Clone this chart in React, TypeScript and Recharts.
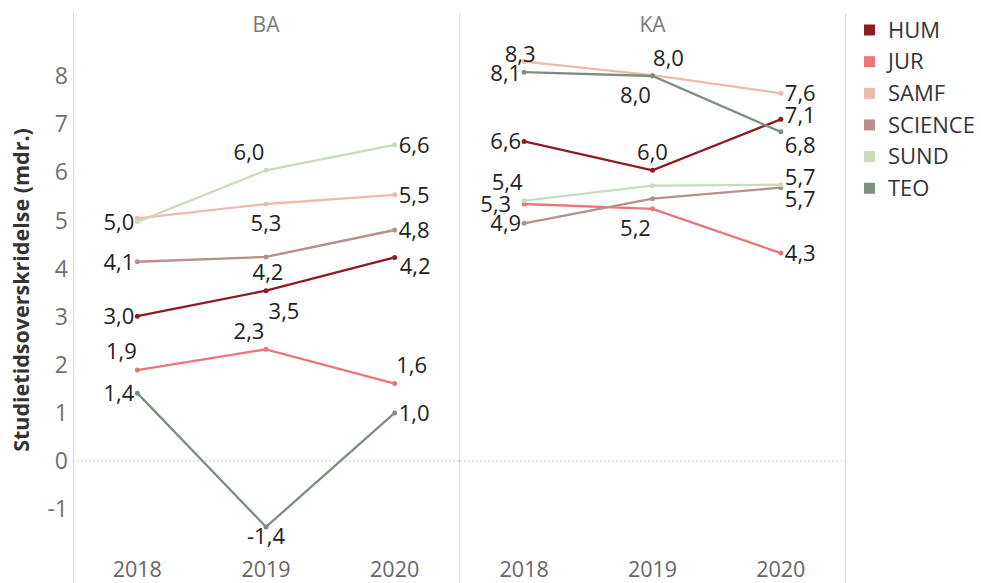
import React from 'react';
import { LineChart, Line, XAxis, YAxis, ReferenceLine, LabelList } from 'recharts';

const FONT = "'Open Sans', sans-serif";

// Categories
const years = ['2018', '2019', '2020'];
const panels = ['BA', 'KA'];
const faculties = ['HUM', 'JUR', 'SAMF', 'SCIENCE', 'SUND', 'TEO'];
const yTicks = [-1, 0, 1, 2, 3, 4, 5, 6, 7, 8];

// BA values (months)
const HUM_BA = [3.01, 3.54, 4.23];
const JUR_BA = [1.89, 2.32, 1.61];
const SAMF_BA = [5.04, 5.34, 5.53];
const SCIENCE_BA = [4.14, 4.24, 4.8];
const SUND_BA = [4.97, 6.04, 6.57];
const TEO_BA = [1.41, -1.37, 1.0];

// KA values (months)
const HUM_KA = [6.64, 6.04, 7.1];
const JUR_KA = [5.34, 5.24, 4.32];
const SAMF_KA = [8.3, 8.02, 7.64];
const SCIENCE_KA = [4.94, 5.45, 5.68];
const SUND_KA = [5.41, 5.72, 5.74];
const TEO_KA = [8.08, 8.0, 6.84];

const COLORS: Record<string, string> = {
  HUM: '#8c1c22',
  JUR: '#e8767b',
  SAMF: '#efbaae',
  SCIENCE: '#b5908c',
  SUND: '#c9dcbe',
  TEO: '#7d8f80',
};

const seriesBA: Record<string, number[]> = {
  HUM: HUM_BA, JUR: JUR_BA, SAMF: SAMF_BA, SCIENCE: SCIENCE_BA, SUND: SUND_BA, TEO: TEO_BA,
};
const seriesKA: Record<string, number[]> = {
  HUM: HUM_KA, JUR: JUR_KA, SAMF: SAMF_KA, SCIENCE: SCIENCE_KA, SUND: SUND_KA, TEO: TEO_KA,
};

const buildData = (s: Record<string, number[]>) =>
  years.map((year, i) => {
    const row: any = { year };
    faculties.forEach((f) => (row[f] = s[f][i]));
    return row;
  });

const dataBA = buildData(seriesBA);
const dataKA = buildData(seriesKA);

// Label placement (layout only): [dx, dy, anchor] relative to the point, or null = hidden
type P = [number, number, 'start' | 'middle' | 'end'] | null;
const L: P = [-3, 0, 'end'];
const R: P = [4, 0, 'start'];
const placements: Record<string, Record<string, P[]>> = {
  BA: {
    HUM: [L, [18, 21, 'middle'], [5, 9, 'start']],
    JUR: [[-16, -19, 'middle'], [-17, -18, 'middle'], [17, -18, 'middle']],
    SAMF: [null, [0, 19, 'middle'], R],
    SCIENCE: [L, [2, 15, 'middle'], R],
    SUND: [L, [-17, -18, 'middle'], R],
    TEO: [L, [0, 9, 'middle'], R],
  },
  KA: {
    HUM: [L, [0, -18, 'middle'], [4, -4, 'start']],
    JUR: [[-13, 0, 'end'], [-17, 19, 'middle'], R],
    SAMF: [[-4, -7, 'middle'], [16, -17, 'middle'], R],
    SCIENCE: [L, null, [4, 11, 'start']],
    SUND: [[-17, -18, 'middle'], null, [4, -8, 'start']],
    TEO: [[-3, 1, 'end'], [-17, 19, 'middle'], [4, 13, 'start']],
  },
};

const fmt = (v: number) => Number(v).toFixed(1).replace('.', ',');

const LABEL_FS = 22;

const makeLabel = (panel: string, key: string) => (props: any) => {
  const x = props.x ?? props.viewBox?.x;
  const y = props.y ?? props.viewBox?.y;
  const p = placements[panel][key][props.index];
  if (!p || props.value == null || x == null || y == null) return null;
  return (
    <text
      x={x + p[0]}
      y={y + p[1] + LABEL_FS * 0.357}
      textAnchor={p[2]}
      fontSize={LABEL_FS}
      fontFamily={FONT}
      fill="#222"
    >
      {fmt(props.value)}
    </text>
  );
};

const TOP = 27.875;
const XH = 25.75;
const H = 583;

function PanelChart({ panel, data, width, showY }: { panel: string; data: any[]; width: number; showY: boolean }) {
  const plotW = width - (showY ? 73 : 0);
  const pad = plotW / 6;
  return (
    <LineChart width={width} height={H} data={data} margin={{ top: TOP, right: 0, bottom: 0, left: 0 }}>
      <XAxis
        dataKey="year"
        height={XH}
        axisLine={false}
        tickLine={false}
        tickSize={0}
        tickMargin={4}
        interval={0}
        padding={{ left: pad, right: pad }}
        tick={{ fontSize: 21.5, fill: '#666', fontFamily: FONT }}
      />
      <YAxis
        type="number"
        width={showY ? 73 : 0}
        hide={!showY}
        domain={[-2, 9]}
        ticks={yTicks}
        allowDataOverflow
        axisLine={false}
        tickLine={false}
        tickSize={0}
        tickMargin={5}
        tick={{ fontSize: 23, fill: '#707070', fontFamily: FONT }}
      />
      <ReferenceLine y={0} stroke="#cfcfcf" strokeDasharray="2 2" strokeWidth={1} />
      {faculties.map((f) => (
        <Line
          key={f}
          dataKey={f}
          stroke={COLORS[f]}
          strokeWidth={2.3}
          dot={{ r: 2.5, fill: COLORS[f], stroke: COLORS[f], strokeWidth: 0 }}
          activeDot={false}
          isAnimationActive={false}
        >
          <LabelList dataKey={f} content={makeLabel(panel, f)} />
        </Line>
      ))}
    </LineChart>
  );
}

export default function App() {
  const legendTop = 30;
  const legendStep = 31.65;
  return (
    <div style={{ position: 'absolute', left: 0, top: 0, width: 981, height: 583, background: '#fff', overflow: 'hidden' }}>
      <svg width={981} height={583} style={{ position: 'absolute', left: 0, top: 0 }}>
        {[73, 459, 845].map((x) => (
          <line key={x} x1={x + 0.5} x2={x + 0.5} y1={13} y2={583} stroke="#dcdcdc" strokeWidth={1} />
        ))}
        {panels.map((p, i) => (
          <text
            key={p}
            x={i === 0 ? 266 : 652.5}
            y={24 + 7.5}
            textAnchor="middle"
            fontSize={21}
            fontFamily={FONT}
            fill="#7a7a7a"
          >
            {p}
          </text>
        ))}
        <text
          x={21.3}
          y={290 + 7.7}
          transform="rotate(-90, 21.3, 290)"
          textAnchor="middle"
          fontSize={21.5}
          fontWeight="bold"
          fontFamily={FONT}
          fill="#333"
        >
          Studietidsoverskridelse (mdr.)
        </text>
        {faculties.map((f, i) => {
          const cy = legendTop + i * legendStep;
          return (
            <g key={f}>
              <rect x={864} y={cy - 5.5} width={11} height={11} fill={COLORS[f]} />
              <text x={888} y={cy + 7.8} fontSize={22} fontFamily={FONT} fill="#333">
                {f}
              </text>
            </g>
          );
        })}
      </svg>
      <div style={{ position: 'absolute', left: 0, top: 0 }}>
        <PanelChart panel="BA" data={dataBA} width={459} showY={true} />
      </div>
      <div style={{ position: 'absolute', left: 460, top: 0 }}>
        <PanelChart panel="KA" data={dataKA} width={385} showY={false} />
      </div>
    </div>
  );
}
